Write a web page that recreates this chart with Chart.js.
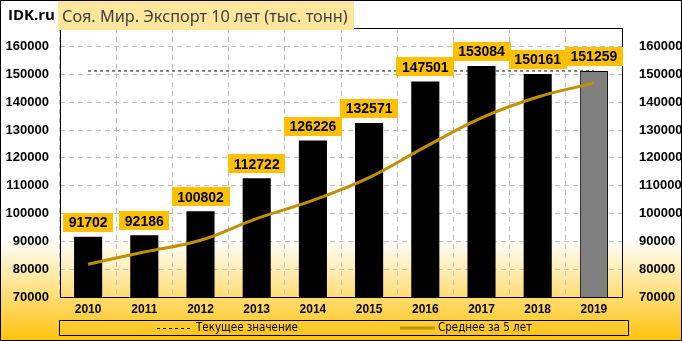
<!DOCTYPE html>
<html>
<head>
<meta charset="utf-8">
<script src="https://cdn.jsdelivr.net/npm/chart.js@4.4.1/dist/chart.umd.min.js"></script>
<style>
  html, body { margin: 0; padding: 0; background: #fff; }
  #wrap { width: 682px; height: 341px; }
</style>
</head>
<body>
<div id="wrap"><canvas id="chart" width="682" height="341"></canvas></div>
<script>
// Data
const years = ["2010", "2011", "2012", "2013", "2014", "2015", "2016", "2017", "2018", "2019"];
const exportValues = [91702, 92186, 100802, 112722, 126226, 132571, 147501, 153084, 150161, 151259];
const currentValue = [151259, 151259, 151259, 151259, 151259, 151259, 151259, 151259, 151259, 151259];
const average5 = [81800, 86200, 90400, 98200, 104728, 112901, 123964, 134421, 141909, 146915];
const yTicks = [70000, 80000, 90000, 100000, 110000, 120000, 130000, 140000, 150000, 160000];

const titleText = "Соя. Мир. Экспорт 10 лет (тыс. тонн)";
const siteText = "IDK.ru";

const NUM_FONT = '"Liberation Sans", Arial, sans-serif';
const TXT_FONT = '"DejaVu Sans Condensed", "DejaVu Sans", sans-serif';

// Background, frame, labels, title and legend
const decorPlugin = {
  id: "decor",
  beforeDraw(chart) {
    const { ctx, width, height } = chart;
    const grad = ctx.createLinearGradient(0, 0, 0, height);
    grad.addColorStop(0, "#ffffff");
    grad.addColorStop(0.7, "#ffffff");
    grad.addColorStop(1, "#ffc20a");
    ctx.save();
    ctx.fillStyle = grad;
    ctx.fillRect(0, 0, width, height);
    ctx.restore();
  },
  afterDraw(chart) {
    const { ctx, chartArea, width, height } = chart;
    ctx.save();

    // plot frame
    ctx.strokeStyle = "#000";
    ctx.lineWidth = 1;
    ctx.strokeRect(chartArea.left + 0.5, chartArea.top + 0.5,
      chartArea.right - chartArea.left, chartArea.bottom - chartArea.top);

    // value labels above bars
    const meta = chart.getDatasetMeta(1);
    ctx.font = "bold 14px " + NUM_FONT;
    ctx.textAlign = "center";
    ctx.textBaseline = "middle";
    meta.data.forEach((bar, i) => {
      const text = String(exportValues[i]);
      const w = ctx.measureText(text).width + 11;
      const h = 19;
      const bottom = bar.y - 5;
      ctx.fillStyle = "#ffc000";
      ctx.fillRect(Math.round(bar.x - w / 2), Math.round(bottom - h), Math.round(w), h);
      ctx.fillStyle = "#000";
      ctx.fillText(text, bar.x, bottom - h / 2 + 1);
    });

    // title
    ctx.fillStyle = "#ffe69c";
    ctx.fillRect(58, 0, 296, 30);
    ctx.fillStyle = "#404040";
    ctx.font = '16.3px "Noto Sans", sans-serif';
    ctx.textAlign = "left";
    ctx.fillText(titleText, 62, 17);
    ctx.fillStyle = "#000";
    ctx.font = 'bold 15px "Open Sans", sans-serif';
    ctx.fillText(siteText, 8, 16);

    // legend
    ctx.strokeStyle = "#000";
    ctx.lineWidth = 1;
    ctx.strokeRect(59.5, 320.5, 569, 15);
    const ly = 328;
    ctx.font = "11.5px " + TXT_FONT;
    ctx.setLineDash([3, 3]);
    ctx.beginPath();
    ctx.moveTo(157, ly + 0.5);
    ctx.lineTo(191, ly + 0.5);
    ctx.stroke();
    ctx.setLineDash([]);
    ctx.fillStyle = "#000";
    ctx.fillText(chart.data.datasets[2].label, 196, ly);
    ctx.strokeStyle = "#bf9000";
    ctx.lineWidth = 3;
    ctx.beginPath();
    ctx.moveTo(400, ly);
    ctx.lineTo(435, ly);
    ctx.stroke();
    ctx.fillText(chart.data.datasets[0].label, 438, ly);

    // outer border
    ctx.strokeStyle = "#000";
    ctx.lineWidth = 1;
    ctx.strokeRect(0.5, 0.5, width - 1, height - 1);
    ctx.restore();
  }
};

const tickFont = { family: NUM_FONT, size: 13, weight: "bold" };
const plainTick = (v) => String(v);

new Chart(document.getElementById("chart"), {
  data: {
    labels: years,
    datasets: [
      {
        type: "line",
        label: "Среднее за 5 лет",
        data: average5,
        borderColor: "#bf9000",
        borderWidth: 3,
        tension: 0.4,
        pointRadius: 0,
        order: 0,
      },
      {
        type: "bar",
        label: "Экспорт",
        data: exportValues,
        backgroundColor: (c) => (c.dataIndex === years.length - 1 ? "#808080" : "#000000"),
        borderColor: "#000000",
        borderWidth: (c) => (c.dataIndex === years.length - 1 ? 1 : 0),
        barPercentage: 0.5,
        categoryPercentage: 1,
        order: 1,
      },
      {
        type: "line",
        label: "Текущее значение",
        data: currentValue,
        borderColor: "#000000",
        borderWidth: 1,
        borderDash: [3, 3],
        pointRadius: 0,
        order: 2,
      },
    ],
  },
  options: {
    responsive: false,
    animation: false,
    devicePixelRatio: 1,
    layout: {
      padding: { top: 28, right: 0, bottom: 24, left: 0 },
    },
    plugins: {
      legend: { display: false },
      title: { display: false },
      tooltip: { enabled: false },
    },
    scales: {
      x: {
        offset: true,
        afterFit(scale) { scale.height = 20; },
        grid: {
          offset: true,
          color: "#c0c0c0",
          drawTicks: false,
        },
        border: { display: false, dash: [5, 4] },
        ticks: {
          color: "#000",
          padding: 5,
          font: { family: NUM_FONT, size: 12, weight: "bold" },
        },
      },
      y: {
        position: "left",
        min: 70000,
        max: 166700,
        afterFit(scale) { scale.width = 60; },
        afterBuildTicks(scale) { scale.ticks = yTicks.map((v) => ({ value: v })); },
        grid: { color: "#c0c0c0", drawTicks: false },
        border: { display: false, dash: [5, 4] },
        ticks: { color: "#000", padding: 11, font: tickFont, callback: plainTick },
      },
      y2: {
        position: "right",
        min: 70000,
        max: 166700,
        afterFit(scale) { scale.width = 60; },
        afterBuildTicks(scale) { scale.ticks = yTicks.map((v) => ({ value: v })); },
        grid: { display: false },
        border: { display: false },
        ticks: { color: "#000", padding: 9, font: tickFont, callback: plainTick },
      },
    },
  },
  plugins: [decorPlugin],
});
</script>
</body>
</html>
